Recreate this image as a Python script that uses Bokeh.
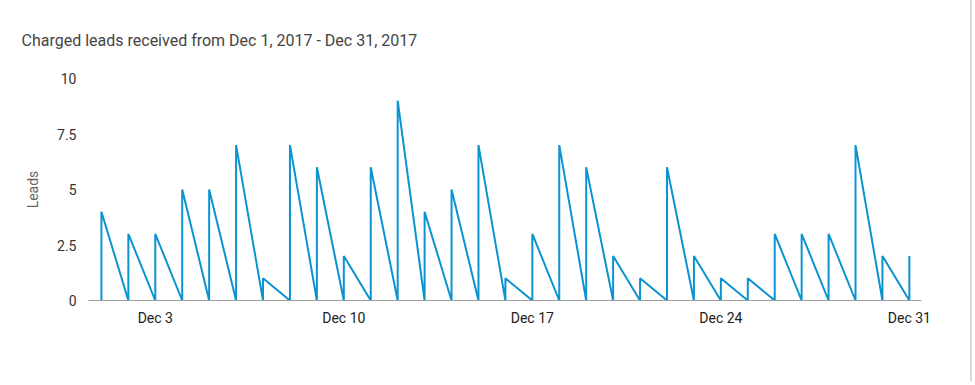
from bokeh.plotting import figure
from bokeh.models import Range1d, FixedTicker
from bokeh.embed import file_html
from bokeh.resources import INLINE

title_text = "Charged leads received from Dec 1, 2017 - Dec 31, 2017"
days = list(range(1, 32))
leads = [4, 3, 3, 5, 5, 7, 1, 7, 6, 2, 6, 9, 4, 5, 7, 1, 3, 7, 6, 2, 1, 6, 2, 1, 1, 3, 3, 3, 7, 2, 2]
x_ticks = [3, 10, 17, 24, 31]
x_tick_labels = ["Dec 3", "Dec 10", "Dec 17", "Dec 24", "Dec 31"]
y_ticks = [0, 2.5, 5, 7.5, 10]
y_tick_labels = ["0", "2.5", "5", "7.5", "10"]

xs, ys = [], []
for d, n in zip(days, leads):
    xs += [d, d]
    ys += [0, n]

p = figure(width=972, height=381, output_backend="svg", toolbar_location=None,
           x_range=Range1d(0.52, 31.45), y_range=Range1d(0, 10),
           min_border_left=88, min_border_right=51, min_border_top=77, min_border_bottom=81)
p.styles = {"border-right": "2px solid #d9d9d9"}
p.title.text = title_text
p.title.align = "left"
p.title.offset = -67
p.title.standoff = 57
p.title.text_font = "Roboto"
p.title.text_font_size = "16px"
p.title.text_font_style = "normal"
p.title.text_color = "#444444"

p.line(xs, ys, line_color="#0b93d0", line_width=2)

p.outline_line_color = None
p.grid.visible = False

p.xaxis.ticker = FixedTicker(ticks=x_ticks)
p.xaxis.major_label_overrides = dict(zip(x_ticks, x_tick_labels))
p.xaxis.major_tick_line_color = None
p.xaxis.minor_tick_line_color = None
p.xaxis.axis_line_color = "#9e9e9e"
p.xaxis.major_label_standoff = 3
p.xaxis.major_label_text_font = "Roboto"
p.xaxis.major_label_text_font_size = "14px"
p.xaxis.major_label_text_color = "#222222"

p.yaxis.ticker = FixedTicker(ticks=y_ticks)
p.yaxis.major_label_overrides = dict(zip(y_ticks, y_tick_labels))
p.yaxis.major_tick_line_color = None
p.yaxis.minor_tick_line_color = None
p.yaxis.axis_line_color = None
p.yaxis.major_label_standoff = 6
p.yaxis.major_label_text_font = "Roboto"
p.yaxis.major_label_text_font_size = "14px"
p.yaxis.major_label_text_color = "#333333"
p.yaxis.axis_label = "Leads"
p.yaxis.axis_label_text_font = "Roboto"
p.yaxis.axis_label_text_font_size = "14px"
p.yaxis.axis_label_text_font_style = "normal"
p.yaxis.axis_label_text_color = "#666666"
p.yaxis.axis_label_standoff = 13

open("out.html", "w").write(file_html(p, INLINE))
